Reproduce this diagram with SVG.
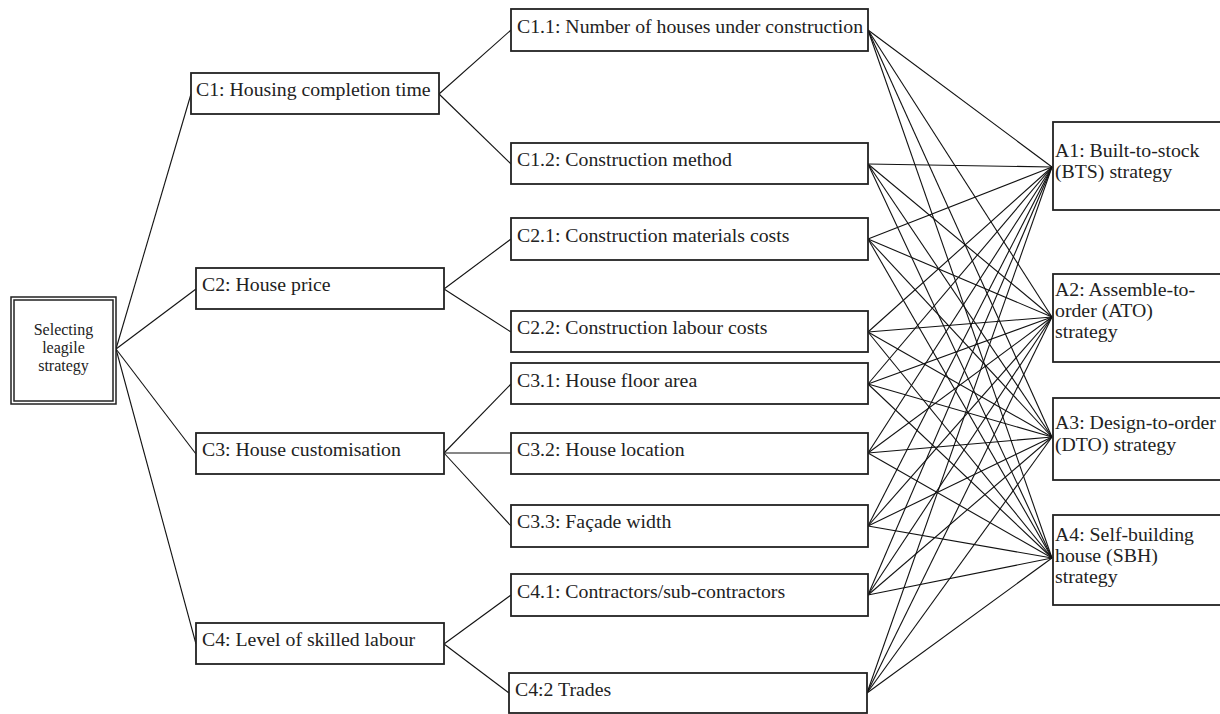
<svg xmlns="http://www.w3.org/2000/svg" width="1220" height="714" viewBox="0 0 1220 714">
<style>
.box{fill:#fff;stroke:#222;stroke-width:1.8}
.t{font-family:"Liberation Serif","Times New Roman",serif;font-size:19.8px;fill:#222}
.g{font-family:"Liberation Serif","Times New Roman",serif;font-size:16px;fill:#222;text-anchor:middle}
.c line{stroke:#111;stroke-width:1.1}
</style>
<rect width="1220" height="714" fill="#fff"/>
<g class="c" id="connectors">
<line x1="116" y1="349" x2="191" y2="94"/>
<line x1="116" y1="349" x2="196" y2="289"/>
<line x1="116" y1="349" x2="196" y2="454"/>
<line x1="116" y1="349" x2="196" y2="644"/>
<line x1="439" y1="94" x2="511" y2="30"/>
<line x1="439" y1="94" x2="511" y2="164"/>
<line x1="444" y1="289" x2="511" y2="239"/>
<line x1="444" y1="289" x2="511" y2="332"/>
<line x1="444" y1="453" x2="511" y2="384"/>
<line x1="444" y1="453" x2="511" y2="453"/>
<line x1="444" y1="453" x2="511" y2="526"/>
<line x1="444" y1="644" x2="511" y2="595"/>
<line x1="444" y1="644" x2="509" y2="693"/>
<line x1="868" y1="30" x2="1052" y2="167"/><line x1="868" y1="30" x2="1052" y2="317"/><line x1="868" y1="30" x2="1052" y2="437"/><line x1="868" y1="30" x2="1052" y2="558"/>
<line x1="868" y1="164" x2="1052" y2="167"/><line x1="868" y1="164" x2="1052" y2="317"/><line x1="868" y1="164" x2="1052" y2="437"/><line x1="868" y1="164" x2="1052" y2="558"/>
<line x1="868" y1="239" x2="1052" y2="167"/><line x1="868" y1="239" x2="1052" y2="317"/><line x1="868" y1="239" x2="1052" y2="437"/><line x1="868" y1="239" x2="1052" y2="558"/>
<line x1="868" y1="332" x2="1052" y2="167"/><line x1="868" y1="332" x2="1052" y2="317"/><line x1="868" y1="332" x2="1052" y2="437"/><line x1="868" y1="332" x2="1052" y2="558"/>
<line x1="868" y1="384" x2="1052" y2="167"/><line x1="868" y1="384" x2="1052" y2="317"/><line x1="868" y1="384" x2="1052" y2="437"/><line x1="868" y1="384" x2="1052" y2="558"/>
<line x1="868" y1="453" x2="1052" y2="167"/><line x1="868" y1="453" x2="1052" y2="317"/><line x1="868" y1="453" x2="1052" y2="437"/><line x1="868" y1="453" x2="1052" y2="558"/>
<line x1="868" y1="526" x2="1052" y2="167"/><line x1="868" y1="526" x2="1052" y2="317"/><line x1="868" y1="526" x2="1052" y2="437"/><line x1="868" y1="526" x2="1052" y2="558"/>
<line x1="868" y1="595" x2="1052" y2="167"/><line x1="868" y1="595" x2="1052" y2="317"/><line x1="868" y1="595" x2="1052" y2="437"/><line x1="868" y1="595" x2="1052" y2="558"/>
<line x1="867" y1="693" x2="1052" y2="167"/><line x1="867" y1="693" x2="1052" y2="317"/><line x1="867" y1="693" x2="1052" y2="437"/><line x1="867" y1="693" x2="1052" y2="558"/>
</g>
<g id="goal">
<rect x="11" y="297" width="105" height="107" fill="#fff" stroke="#222" stroke-width="1.5"/>
<rect x="14" y="300" width="99" height="101" fill="none" stroke="#222" stroke-width="1.5"/>
<text class="g" x="63.5" y="335">Selecting</text>
<text class="g" x="63.5" y="353">leagile</text>
<text class="g" x="63.5" y="371">strategy</text>
</g>
<g id="c1"><rect class="box" x="191" y="73" width="248" height="41"/><text class="t" x="196" y="96">C1: Housing completion time</text></g>
<g id="c2"><rect class="box" x="196" y="268" width="248" height="41"/><text class="t" x="202" y="291">C2: House price</text></g>
<g id="c3"><rect class="box" x="196" y="433" width="248" height="41"/><text class="t" x="202" y="456">C3: House customisation</text></g>
<g id="c4"><rect class="box" x="196" y="623" width="248" height="41"/><text class="t" x="202" y="646">C4: Level of skilled labour</text></g>
<g id="c11"><rect class="box" x="511" y="9" width="357" height="42"/><text class="t" x="517" y="33">C1.1: Number of houses under construction</text></g>
<g id="c12"><rect class="box" x="511" y="143" width="357" height="41"/><text class="t" x="517" y="166">C1.2: Construction method</text></g>
<g id="c21"><rect class="box" x="511" y="218" width="357" height="42"/><text class="t" x="517" y="242">C2.1: Construction materials costs</text></g>
<g id="c22"><rect class="box" x="511" y="311" width="357" height="41"/><text class="t" x="517" y="334">C2.2: Construction labour costs</text></g>
<g id="c31"><rect class="box" x="511" y="363" width="357" height="41"/><text class="t" x="517" y="387">C3.1: House floor area</text></g>
<g id="c32"><rect class="box" x="511" y="433" width="357" height="41"/><text class="t" x="517" y="456">C3.2: House location</text></g>
<g id="c33"><rect class="box" x="511" y="505" width="357" height="42"/><text class="t" x="517" y="528">C3.3: Façade width</text></g>
<g id="c41"><rect class="box" x="511" y="574" width="357" height="42"/><text class="t" x="517" y="598">C4.1: Contractors/sub-contractors</text></g>
<g id="c42"><rect class="box" x="509" y="673" width="358" height="40"/><text class="t" x="515" y="696">C4:2 Trades</text></g>
<g id="a1"><rect class="box" x="1053" y="122" width="180" height="88"/><text class="t" x="1055" y="157">A1: Built-to-stock</text><text class="t" x="1055" y="178">(BTS) strategy</text></g>
<g id="a2"><rect class="box" x="1053" y="274" width="180" height="88"/><text class="t" x="1055" y="296">A2: Assemble-to-</text><text class="t" x="1055" y="317">order (ATO)</text><text class="t" x="1055" y="338">strategy</text></g>
<g id="a3"><rect class="box" x="1053" y="398" width="180" height="82"/><text class="t" x="1055" y="429">A3: Design-to-order</text><text class="t" x="1055" y="451">(DTO) strategy</text></g>
<g id="a4"><rect class="box" x="1053" y="515" width="180" height="90"/><text class="t" x="1055" y="541">A4: Self-building</text><text class="t" x="1055" y="562">house (SBH)</text><text class="t" x="1055" y="583">strategy</text></g>
</svg>
